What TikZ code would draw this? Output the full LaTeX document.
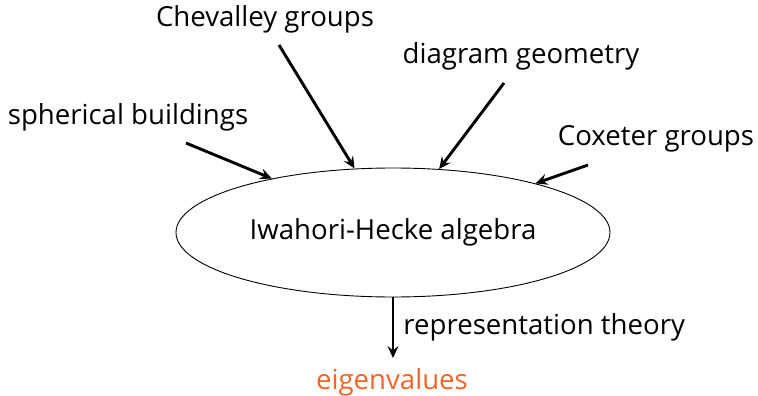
\documentclass[tikz,border=0pt]{standalone}
\usepackage{fontspec}
\setmainfont{Open Sans}
\usetikzlibrary{shapes.geometric,arrows.meta}
\definecolor{eigorange}{RGB}{242,100,40}
\begin{document}
\begin{tikzpicture}[x=1pt,y=-1pt,
  lbl/.style={font=\fontsize{27.6}{32}\selectfont, inner sep=0pt},
  conn/.style={line width=2.9pt, -{Stealth[length=12pt,width=11pt,inset=4.5pt]}},
  hub/.style={draw, ellipse, line width=0.9pt, minimum width=434pt, minimum height=129pt, inner sep=0pt, font=\fontsize{27.6}{32}\selectfont}]
\useasboundingbox (0,0) rectangle (758,396);
\node[hub] (ih) at (393,232.5) {Iwahori-Hecke algebra};
\node[lbl] (chev) at (265,19) {Chevalley groups};
\node[lbl] (sph) at (128,117) {spherical buildings};
\node[lbl] (diag) at (521,56) {diagram geometry};
\node[lbl] (cox) at (656,139) {Coxeter groups};
\node[lbl, text=eigorange] (eig) at (392,382) {eigenvalues};
\coordinate (chevs) at (279,45);
\coordinate (sphs) at (186,143);
\coordinate (diags) at (504,83);
\coordinate (coxs) at (588,165);
\coordinate (eigtop) at (393,358);
\draw[conn] (chevs) -- (ih.121);
\draw[conn] (sphs) -- (ih.156);
\draw[conn] (diags) -- (ih.54);
\draw[conn] (coxs) -- (ih.19);
\draw[conn] (ih.south) -- node[lbl, right=9pt] (rep) {representation theory} (eigtop);
\end{tikzpicture}
\end{document}
